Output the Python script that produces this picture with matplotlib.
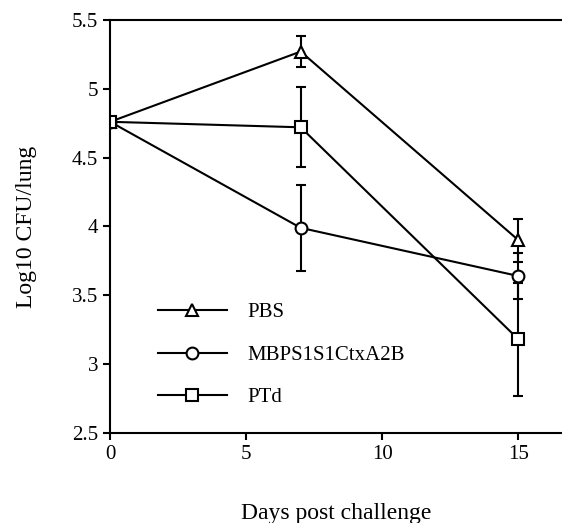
import numpy as np
import matplotlib
matplotlib.use("Agg")
import matplotlib.pyplot as plt

plt.rcParams['font.family'] = ['Liberation Serif', 'DejaVu Serif']

days = [0, 7, 15]
labels = ["PBS", "MBPS1S1CtxA2B", "PTd"]
markers = ["^", "o", "s"]

pbs = [4.76, 5.27, 3.90]
pbs_err = [0.0, 0.115, 0.155]
mbps = [4.76, 3.99, 3.64]
mbps_err = [0.0, 0.31, 0.165]
ptd = [4.76, 4.72, 3.18]
ptd_err = [0.0, 0.29, 0.41]

series = [pbs, mbps, ptd]
errors = [pbs_err, mbps_err, ptd_err]

fig = plt.figure(figsize=(5.62, 5.23), dpi=100)
ax = fig.add_axes([0.196, 0.172, 0.804, 0.790])

for vals, err, lab, mk in zip(series, errors, labels, markers):
    ax.errorbar(days, vals, yerr=err, color="black", lw=1.5, marker=mk,
                markersize=8.5, markerfacecolor="white", markeredgecolor="black",
                markeredgewidth=1.5, capsize=3.6, elinewidth=1.5, capthick=1.5,
                label=lab)

ax.set_xlim(0, 16.6)
ax.set_ylim(2.5, 5.5)
ax.set_xticks([0, 5, 10, 15])
ax.set_yticks([2.5, 3, 3.5, 4, 4.5, 5, 5.5])
ax.set_yticklabels(["2.5", "3", "3.5", "4", "4.5", "5", "5.5"])
ax.spines['right'].set_visible(False)
for s in ['left', 'bottom', 'top']:
    ax.spines[s].set_linewidth(1.5)
ax.tick_params(direction="out", length=5, width=1.5, labelsize=15)

ax.set_xlabel("Days post challenge", fontsize=17, labelpad=28)
ax.set_ylabel("Log10 CFU/lung", fontsize=17, labelpad=25)

handles, labs = ax.get_legend_handles_labels()
handles = [h[0] for h in handles]
ax.legend(handles, labs, loc="upper left", bbox_to_anchor=(0.106, 0.315),
          frameon=False, fontsize=15, borderpad=0, borderaxespad=0,
          handlelength=3.3, handletextpad=1.0, labelspacing=1.1)

fig.savefig("out.png", dpi=100)
